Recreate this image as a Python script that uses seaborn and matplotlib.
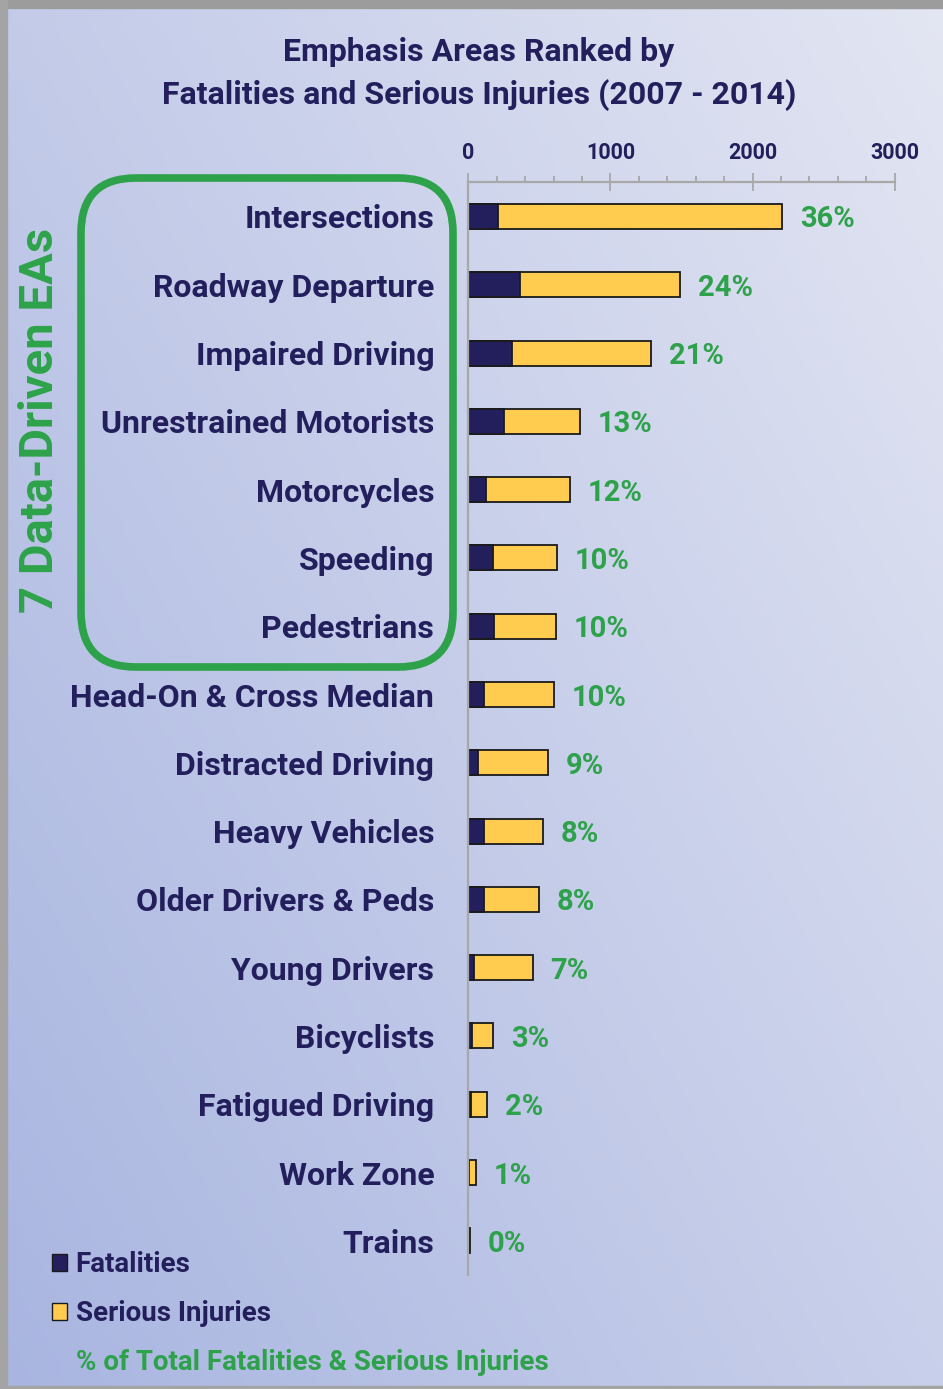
import numpy as np
import pandas as pd
import matplotlib.pyplot as plt
import seaborn as sns
from matplotlib.patches import FancyBboxPatch, Patch, Rectangle
from matplotlib.transforms import IdentityTransform
from matplotlib.ticker import MultipleLocator

# ---------------- data ----------------
areas = ["Intersections", "Roadway Departure", "Impaired Driving",
         "Unrestrained Motorists", "Motorcycles", "Speeding", "Pedestrians",
         "Head-On & Cross Median", "Distracted Driving", "Heavy Vehicles",
         "Older Drivers & Peds", "Young Drivers", "Bicyclists",
         "Fatigued Driving", "Work Zone", "Trains"]
fatalities = [211, 366, 308, 251, 125, 174, 181, 110, 66, 108, 110, 40, 24, 17, 7, 6]
serious_injuries = [1999, 1124, 975, 532, 591, 450, 436, 493, 492, 418, 387, 412, 147, 114, 45, 3]
pct_labels = ["36%", "24%", "21%", "13%", "12%", "10%", "10%", "10%",
              "9%", "8%", "8%", "7%", "3%", "2%", "1%", "0%"]
x_ticks = [0, 1000, 2000, 3000]

df = pd.DataFrame({"Area": areas, "Fatalities": fatalities,
                   "Serious": serious_injuries})
df["Total"] = df["Fatalities"] + df["Serious"]

# ---------------- style ----------------
sns.set_theme(style="white")
plt.rcParams["font.family"] = ["Roboto", "DejaVu Sans"]
plt.rcParams["font.weight"] = "bold"

NAVY = "#231f5c"
YELLOW = "#ffcc4f"
GREEN = "#2ea24b"
GREY = "#a8a8a8"

W, H = 943, 1389
fig = plt.figure(figsize=(W / 100, H / 100), dpi=100)
fig.patch.set_facecolor("white")

# background gradient (light top-right -> bluish bottom-left)
bg = fig.add_axes([0, 0, 1, 1], zorder=-10)
yy, xx = np.mgrid[0:1:200j, 0:1:200j]  # yy = 0 at bottom (origin lower)
t = np.clip(0.55 * (1 - xx) + 0.45 * (1 - yy), 0, 1)[..., None]
top_c = np.array([0.89, 0.90, 0.95])
bot_c = np.array([0.66, 0.71, 0.88])
bg.imshow(top_c * (1 - t) + bot_c * t, extent=[0, 1, 0, 1], origin="lower",
          aspect="auto")
bg.add_patch(Rectangle((0, 1 - 8 / H), 1, 8 / H, color="#9c9c9c"))
bg.add_patch(Rectangle((0, 0), 7 / W, 1, color="#a4a4a4"))
bg.add_patch(Rectangle((0, 0), 1, 3 / H, color="#a4a4a4"))
bg.set_axis_off()

# ---------------- main bar axes ----------------
ax = fig.add_axes([468.3 / W, 114 / H, 426.4 / W, 1092.7 / H])
ax.set_facecolor("none")

sns.barplot(data=df, x="Total", y="Area", color=YELLOW, edgecolor="#1a1a1a",
            linewidth=1.3, width=0.366, orient="h", saturation=1, ax=ax)
sns.barplot(data=df, x="Fatalities", y="Area", color=NAVY, edgecolor="#1a1a1a",
            linewidth=1.3, width=0.366, orient="h", saturation=1, ax=ax)

# percentage labels to the right of each bar
for i, (tot, lbl) in enumerate(zip(df["Total"], pct_labels)):
    ax.annotate(lbl, xy=(tot, i), xytext=(13, 0), textcoords="offset points",
                ha="left", va="center_baseline", color=GREEN, fontsize=21,
                fontweight="bold")

ax.set_xlim(0, 3000)
ax.set_ylim(len(areas) - 0.5, -0.5)
ax.xaxis.tick_top()
ax.set_xticks(x_ticks)
ax.xaxis.set_minor_locator(MultipleLocator(200))
ax.tick_params(axis="x", which="major", direction="inout", length=12.6, width=1.3,
               color=GREY, pad=7, labelsize=15.5, labelcolor=NAVY)
ax.tick_params(axis="x", which="minor", direction="out", length=4, width=1.3,
               color=GREY)
ax.tick_params(axis="y", length=0, pad=24.5, labelsize=23, labelcolor=NAVY)
ax.set_xlabel("")
ax.set_ylabel("")
for s in ["right", "bottom"]:
    ax.spines[s].set_visible(False)
for s in ["top", "left"]:
    ax.spines[s].set_color(GREY)
    ax.spines[s].set_linewidth(1.6)

# ---------------- title ----------------
fig.text(479 / W, 1 - 52 / H, "Emphasis Areas Ranked by", ha="center", va="center",
         fontsize=23, color=NAVY)
fig.text(479 / W, 1 - 95 / H, "Fatalities and Serious Injuries (2007 - 2014)",
         ha="center", va="center", fontsize=23, color=NAVY)

# ---------------- green box + vertical label ----------------
box = FancyBboxPatch((81, H - 667), 453 - 81, 667 - 178,
                     boxstyle="round,pad=0,rounding_size=55",
                     transform=IdentityTransform(), fill=False,
                     edgecolor=GREEN, linewidth=5.5, zorder=5)
fig.patches.append(box)
fig.text(40 / W, 1 - 420 / H, "7 Data-Driven EAs", rotation=90, ha="center",
         va="center", fontsize=34, color=GREEN)

# ---------------- legend ----------------
handles = [Patch(facecolor=NAVY, edgecolor="#1a1a1a"),
           Patch(facecolor=YELLOW, edgecolor="#1a1a1a"),
           Patch(facecolor="none", edgecolor="none")]
leg = fig.legend(handles, ["Fatalities", "Serious Injuries",
                           "% of Total Fatalities & Serious Injuries"],
                 loc="upper left", bbox_to_anchor=(52 / W, 1 - 1251.5 / H),
                 frameon=False, fontsize=20, handlelength=0.55, handleheight=0.55,
                 handletextpad=0.3, labelspacing=0.78, borderpad=0,
                 borderaxespad=0)
for txt in leg.get_texts():
    txt.set_color(NAVY)
leg.get_texts()[2].set_color(GREEN)

fig.savefig("out.png", dpi=100)
